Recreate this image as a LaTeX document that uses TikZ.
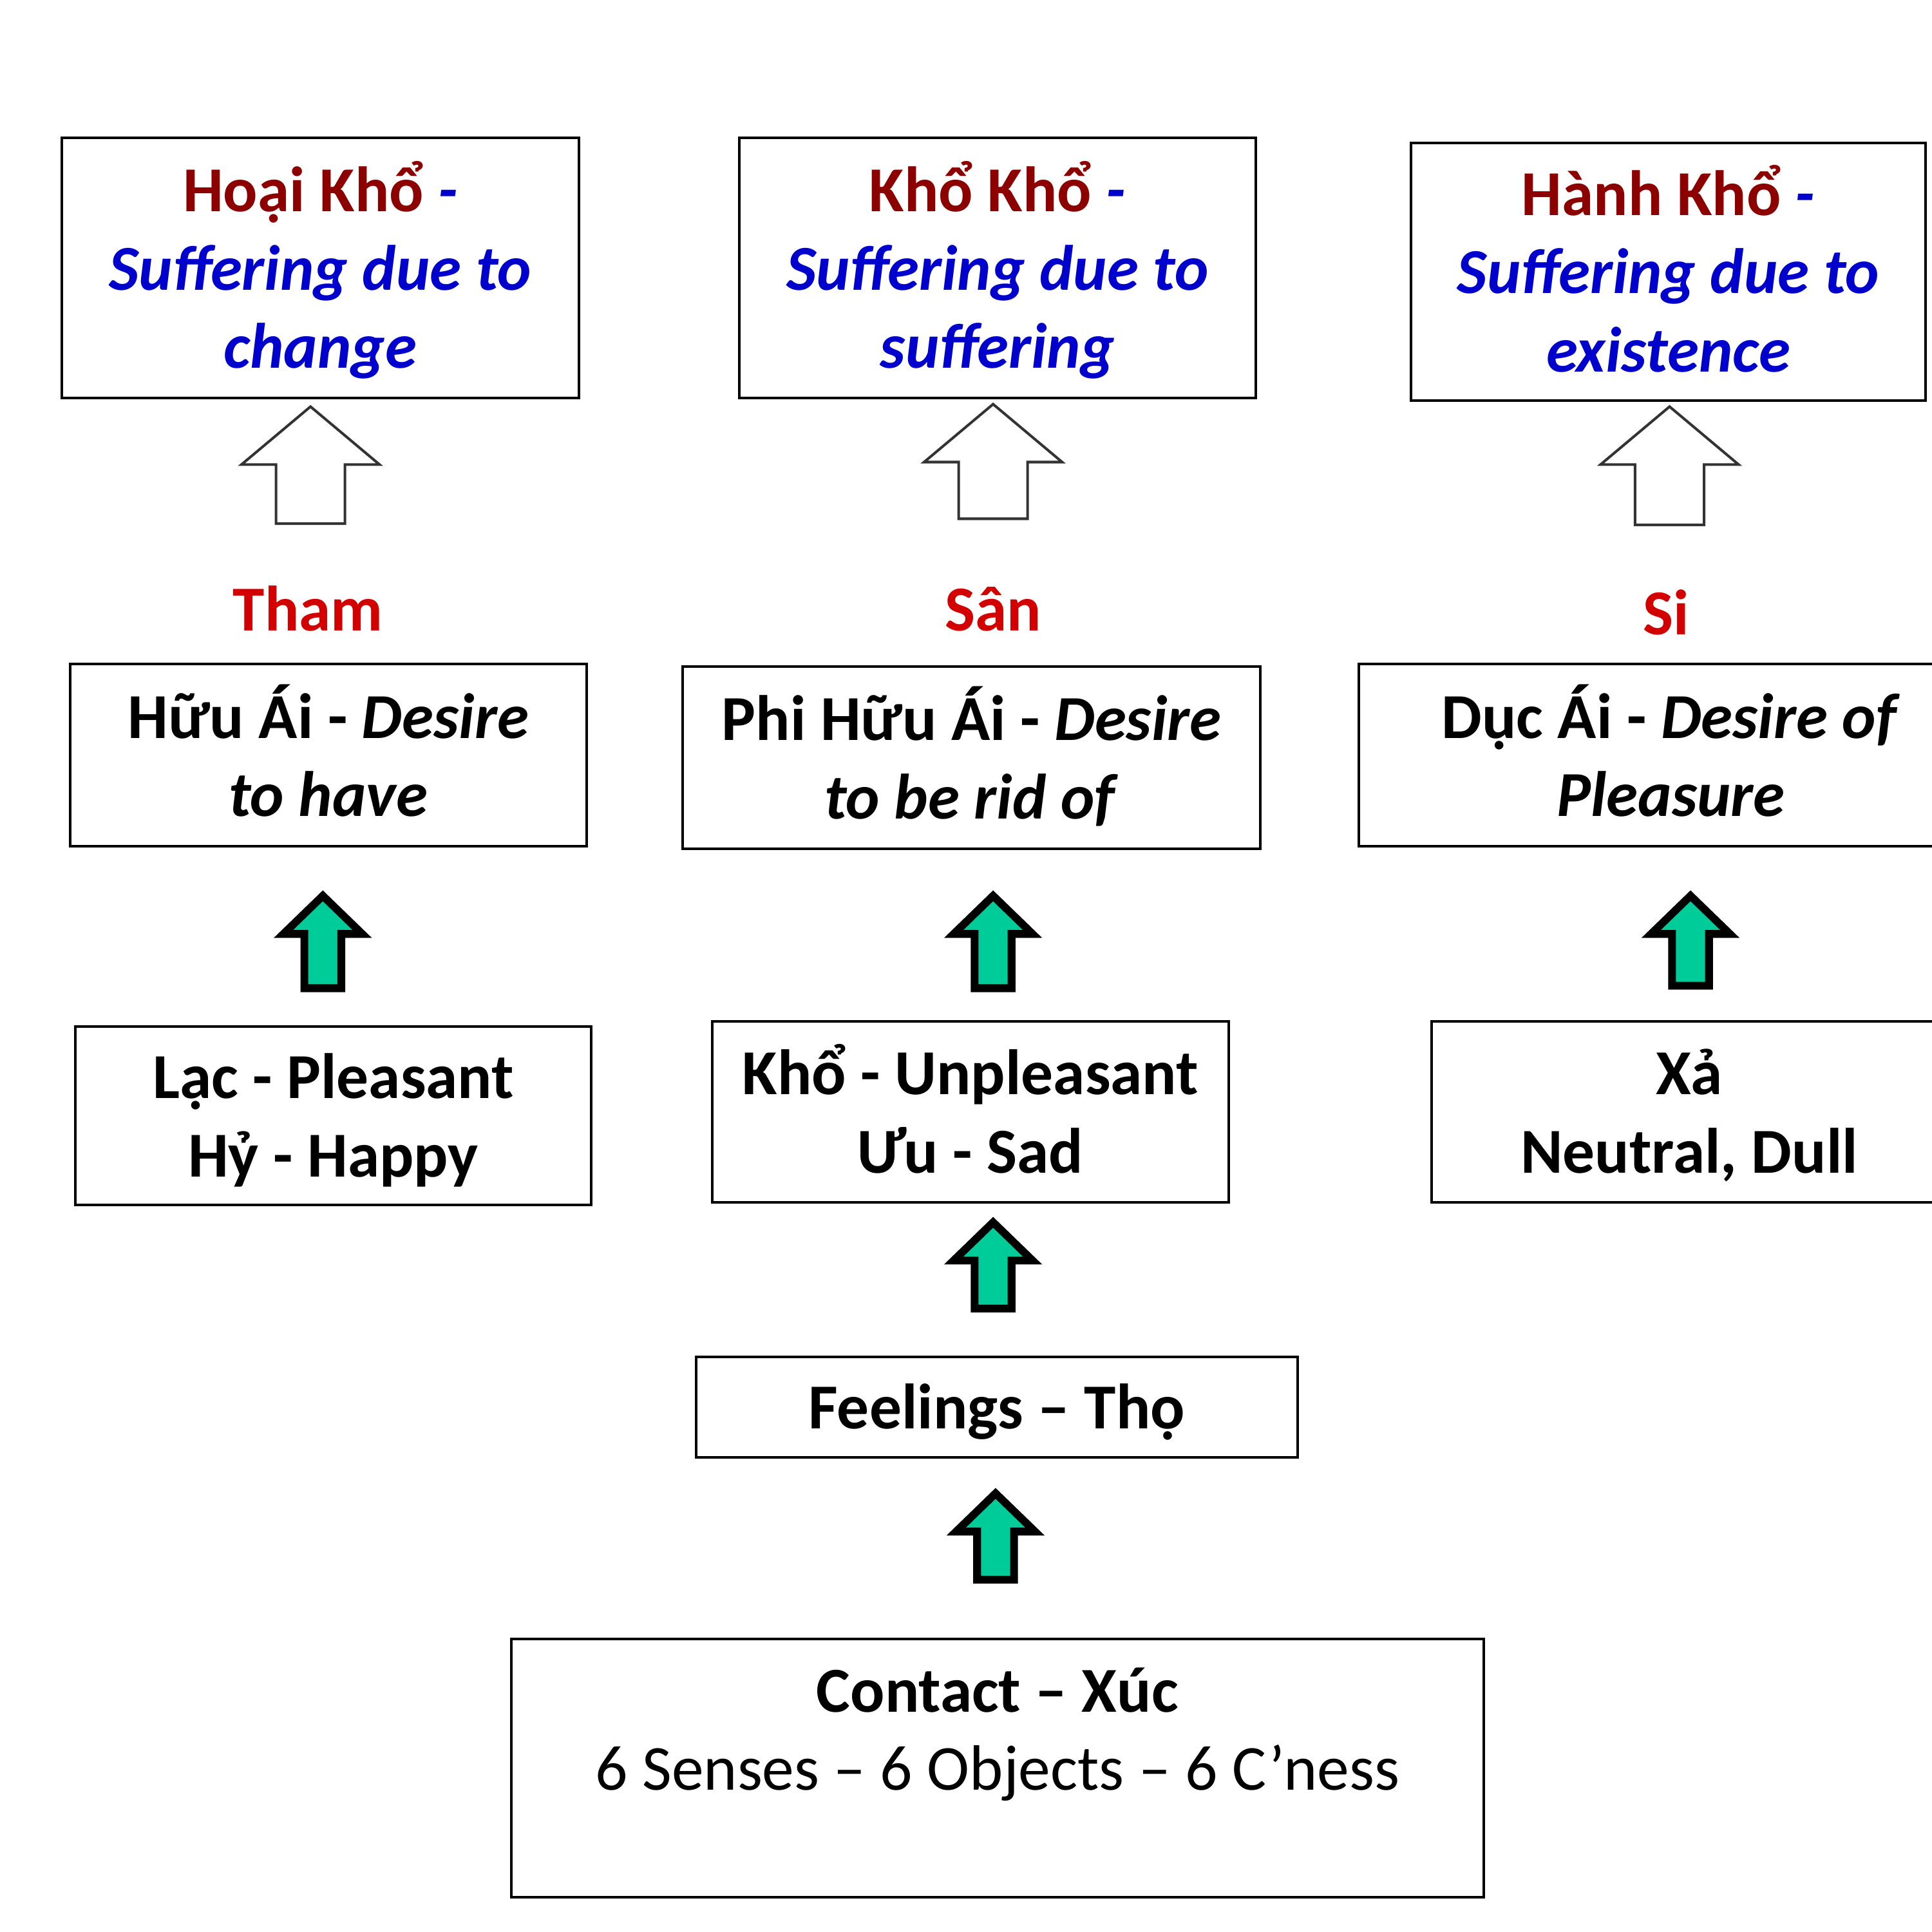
\documentclass[tikz,border=0pt]{standalone}
\usepackage{fontspec}
\setmainfont{Carlito}
\definecolor{dkred}{RGB}{140,0,0}
\definecolor{txtblue}{RGB}{0,0,204}
\definecolor{labred}{RGB}{210,0,0}
\definecolor{arrgreen}{RGB}{0,204,153}
\newcommand\mystrut{\rule[-3.98pt]{0pt}{18.07pt}}
\newcommand\fsz{\fontsize{14.8}{18.07}\selectfont}
\tikzset{
  box/.style={draw=black, line width=0.6pt, rectangle, inner sep=0pt,
    align=center, font=\fsz\bfseries},
  lab/.style={anchor=base, inner sep=0pt, font=\fsz\bfseries, text=labred},
  garrowstyle/.style={draw=black, fill=arrgreen, line width=1.8pt, line join=miter},
  warrowstyle/.style={draw=black!80, fill=white, line width=0.6pt, line join=miter},
  pics/garrow/.style={code={
    \draw[garrowstyle] (0,4) -- (32,35) -- (15,35) -- (15,#1) -- (-15,#1)
      -- (-15,35) -- (-32,35) -- cycle;}},
  pics/warrow/.style={code={
    \draw[warrowstyle] (0,0) -- (56,47) -- (28,47) -- (28,#1) -- (-28,#1)
      -- (-28,47) -- (-56,47) -- cycle;}},
}
\newcommand\topline[1]{\mystrut{\color{dkred}#1} {\color{txtblue}\itshape -}}
\newcommand\blit[1]{\mystrut{\color{txtblue}\itshape #1}}
\begin{document}
\begin{tikzpicture}[x=0.1mm, y=-0.1mm]
\useasboundingbox (0,0) rectangle (1568,1568);
\clip (0,0) rectangle (1568,1568);
\fill[white] (0,0) rectangle (1568,1568);

% top row
\node[box, minimum width=42mm, minimum height=21.1mm] (t1) at (260,217.5)
  {\topline{Hoại Khổ}\\\blit{Suffering due to}\\\blit{change}};
\node[box, minimum width=41.9mm, minimum height=21.1mm] (t2) at (809.5,217.5)
  {\topline{Khổ Khổ}\\\blit{Suffering due to}\\\blit{suffering}};
\node[box, minimum width=41.8mm, minimum height=20.9mm] (t3) at (1354,220.5)
  {\topline{Hành Khổ}\\\blit{Suffering due to}\\\blit{existence}};

% labels
\node[lab] (tham) at (250,512) {Tham};
\node[lab] (san) at (806,512) {Sân};
\node[lab] (si) at (1352,515) {Si};

% middle row
\node[box, minimum width=41.9mm, minimum height=14.8mm] (m1) at (266.5,613)
  {\mystrut Hữu Ái - \textit{Desire}\\\mystrut\textit{to have}};
\node[box, minimum width=46.9mm, minimum height=14.8mm] (m2) at (788.5,615)
  {\mystrut Phi Hữu Ái - \textit{Desire}\\\mystrut\textit{to be rid of}};
\node[box, minimum width=50.6mm, minimum height=14.8mm] (m3) at (1356,613)
  {\mystrut Dục Ái - \textit{Desire of}\\\mystrut\textit{Pleasure}};

% lower row
\node[box, minimum width=41.9mm, minimum height=14.5mm] (l1) at (270.5,905.5)
  {\mystrut Lạc - Pleasant\\\mystrut Hỷ - Happy};
\node[box, minimum width=41.9mm, minimum height=14.7mm] (l2) at (787.5,902.5)
  {\mystrut Khổ - Unpleasant\\\mystrut Ưu - Sad};
\node[box, minimum width=41.8mm, minimum height=14.7mm] (l3) at (1371,902.5)
  {\mystrut Xả\\\mystrut Neutral, Dull};

% feelings and contact
\node[box, minimum width=48.8mm, minimum height=8.2mm] (feel) at (809,1142)
  {\mystrut Feelings – Thọ};
\node[box, minimum width=78.9mm, minimum height=21mm] (contact) at (809.5,1435)
  {\mystrut Contact – Xúc\\\mystrut\mdseries 6 Senses – 6 Objects – 6 C’ness\\\mystrut};

% white block arrows (between the labels and the top boxes)
\pic at (252,330) {warrow=95};
\pic at (806,328) {warrow=93};
\pic at (1355,330) {warrow=96};

% green block arrows
\pic at (262,723) {garrow=79};
\pic at (806,723) {garrow=79};
\pic at (1372,723) {garrow=77};
\pic at (806,988) {garrow=74};
\pic at (808,1208) {garrow=74};
\end{tikzpicture}
\end{document}
